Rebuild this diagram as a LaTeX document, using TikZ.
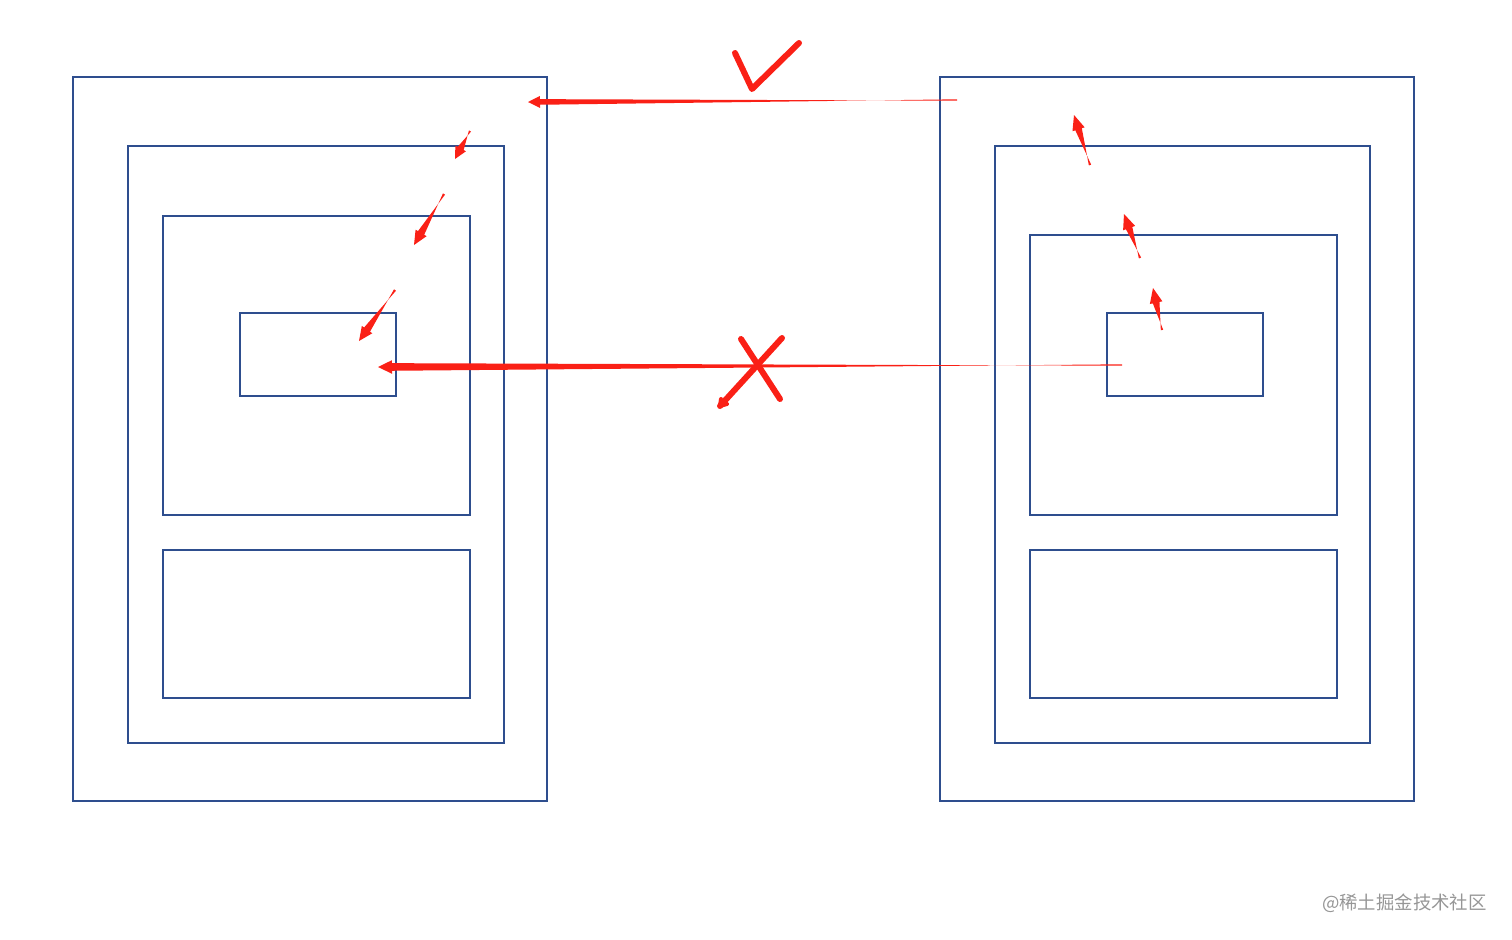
\documentclass[tikz,border=0pt]{standalone}
\usepackage{fontspec}
\newfontfamily\cjk{Noto Sans CJK SC}
\usetikzlibrary{calc}
\definecolor{boxblue}{RGB}{46,78,142}
\definecolor{penred}{RGB}{250,32,22}
\definecolor{wmgrey}{RGB}{150,150,150}
\tikzset{
  frame/.style={draw=boxblue,line width=1.45pt},
  pen/.style={draw=penred,line width=3pt,line cap=round,line join=round},
}
% tapered red arrow: #1 tail, #2 tip, #3 tail half width, #4 shaft half width, #5 head length, #6 head half width
\newcommand\redtaper[6]{%
  \coordinate (hb) at ($(#2)!#5!(#1)$);
  \fill[penred] ($(#1)!#3!90:(#2)$) -- ($(hb)!#4!-90:(#2)$) -- ($(hb)!#6!-90:(#2)$) -- (#2)
    -- ($(hb)!#6!90:(#2)$) -- ($(hb)!#4!90:(#2)$) -- ($(#1)!#3!-90:(#2)$) -- cycle;
}
\begin{document}
\begin{tikzpicture}[x=0.5pt,y=-0.5pt]
\useasboundingbox (0,0) rectangle (1512,939);
% left stack
\draw[frame] (73,77) rectangle (547,801);
\draw[frame] (128,146) rectangle (504,743);
\draw[frame] (163,216) rectangle (470,515);
\draw[frame] (240,313) rectangle (396,396);
\draw[frame] (163,550) rectangle (470,698);
% right stack
\draw[frame] (940,77) rectangle (1414,801);
\draw[frame] (995,146) rectangle (1370,743);
\draw[frame] (1030,235) rectangle (1337,515);
\draw[frame] (1107,313) rectangle (1263,396);
\draw[frame] (1030,550) rectangle (1337,698);
% long arrows
\coordinate (t1) at (957,100); \coordinate (h1) at (528,102);
\redtaper{t1}{h1}{0.35pt}{1.4pt}{6pt}{3pt}
\coordinate (t2) at (1122,365); \coordinate (h2) at (378,367);
\redtaper{t2}{h2}{0.35pt}{1.9pt}{7pt}{3.4pt}
% check mark
\draw[pen] (735,53) -- (752,89) -- (799,43);
% cross
\draw[pen] (741,339) -- (780,399);
\draw[pen] (782,338) -- (720,406);
\draw[pen,line width=2pt] (720,406) -- (721,399);
\draw[pen,line width=2pt] (720,406) -- (727,404);
% small left arrows
\coordinate (a1) at (470,131); \coordinate (b1) at (455,159);
\redtaper{a1}{b1}{0.6pt}{1.7pt}{6pt}{3pt}
\coordinate (a2) at (444,194); \coordinate (b2) at (414,245);
\redtaper{a2}{b2}{0.6pt}{1.8pt}{7pt}{3.2pt}
\coordinate (a3) at (395,290); \coordinate (b3) at (359,341);
\redtaper{a3}{b3}{0.6pt}{1.8pt}{7pt}{3.2pt}
% small right arrows
\coordinate (a4) at (1090,165); \coordinate (b4) at (1074,115);
\redtaper{a4}{b4}{0.6pt}{1.7pt}{7.5pt}{3.2pt}
\coordinate (a5) at (1140,258); \coordinate (b5) at (1124,214);
\redtaper{a5}{b5}{0.6pt}{1.7pt}{7.5pt}{3.2pt}
\coordinate (a6) at (1162,330); \coordinate (b6) at (1153,288);
\redtaper{a6}{b6}{0.6pt}{1.7pt}{7.5pt}{3.2pt}
% watermark
\node[anchor=east,text=wmgrey,inner sep=0pt,font=\cjk\fontsize{9.2pt}{10pt}\selectfont] (wm) at (1487,903) {@稀土掘金技术社区};
\end{tikzpicture}
\end{document}
